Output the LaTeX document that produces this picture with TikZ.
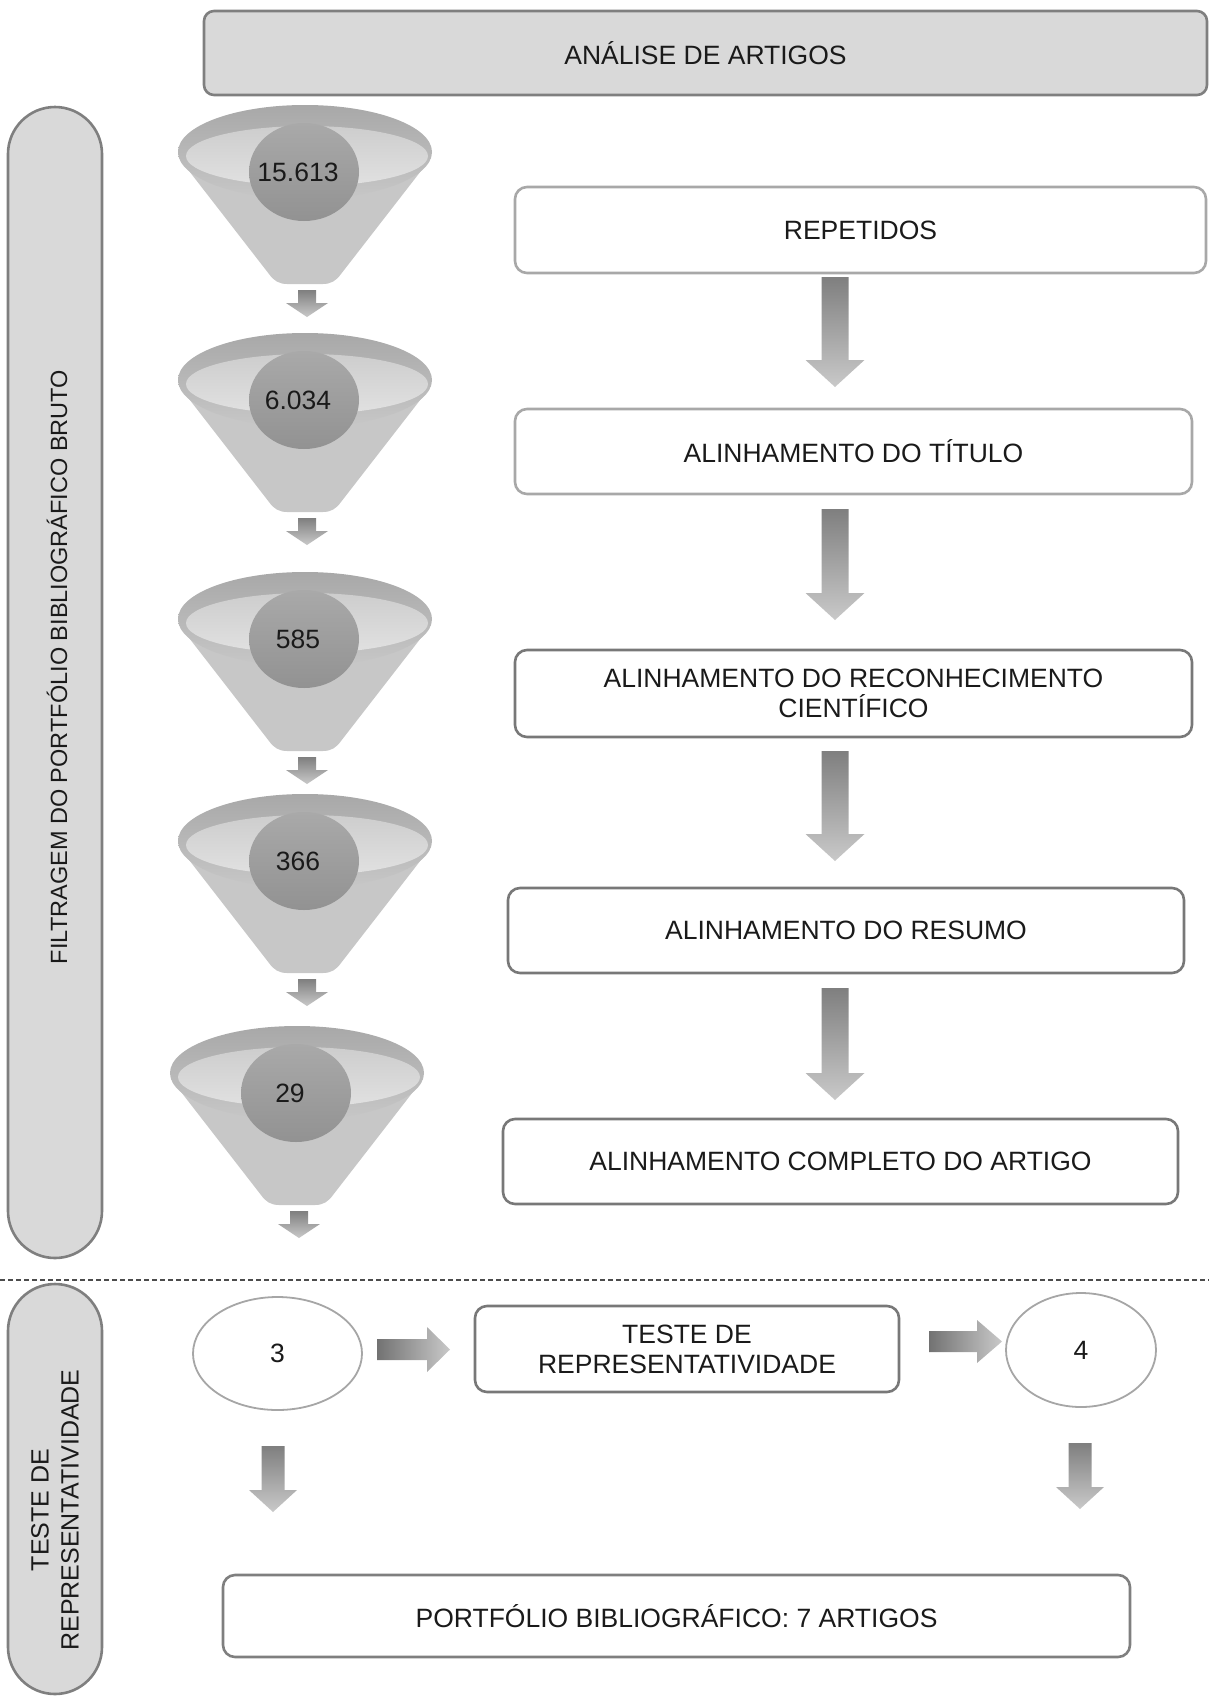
\documentclass[tikz,border=0pt]{standalone}
\usepackage{fontspec}
\setmainfont{Liberation Sans}
\usetikzlibrary{shapes.geometric}

\definecolor{barfill}{HTML}{D9D9D9}
\definecolor{barline}{HTML}{7F7F7F}
\definecolor{boxline}{HTML}{787878}
\definecolor{boxlinelt}{HTML}{A8A8A8}
\definecolor{ellline}{HTML}{A6A6A6}
\definecolor{txt}{HTML}{1A1A1A}
\definecolor{conecol}{HTML}{C7C7C7}
\definecolor{rimtop}{HTML}{A8A8A8}
\definecolor{rimbot}{HTML}{C7C7C7}
\definecolor{intop}{HTML}{CDCDCD}
\definecolor{inbot}{HTML}{E1E1E1}
\definecolor{circtop}{HTML}{A9A9A9}
\definecolor{circbot}{HTML}{929292}
\definecolor{arrtop}{HTML}{7F7F7F}
\definecolor{arrbot}{HTML}{C9C9C9}

\tikzset{
  bigfont/.style={font=\fontsize{26.5}{30}\selectfont},
  sidefont/.style={font=\fontsize{23.5}{30}\selectfont},
  panel/.style={rectangle, draw=barline, fill=barfill, line width=2.6pt,
    inner sep=0pt},
  stepbox/.style={rectangle, draw=boxline, fill=white, line width=2.6pt,
    rounded corners=12pt, align=center, inner sep=0pt, text=txt, bigfont},
  countell/.style={ellipse, draw=ellline, line width=1.8pt, fill=white,
    inner sep=0pt, text=txt, bigfont},
  dashsep/.style={draw=black!70, line width=1.2pt, dash pattern=on 5pt off 3pt},
  % block arrow pointing down: length, shaft width, head width, head length
  pics/downarr/.style n args={4}{code={
    \shade[top color=arrtop, bottom color=arrbot]
      (-#2/2,0) -- (-#2/2,#1-#4) -- (-#3/2,#1-#4) -- (0,#1)
      -- (#3/2,#1-#4) -- (#2/2,#1-#4) -- (#2/2,0) -- cycle;
  }},
  % block arrow pointing right: length, shaft width, head width, head length
  pics/rightarr/.style n args={4}{code={
    \shade[left color=arrtop!90!black, right color=arrbot]
      (0,-#2/2) -- (#1-#4,-#2/2) -- (#1-#4,-#3/2) -- (#1,0)
      -- (#1-#4,#3/2) -- (#1-#4,#2/2) -- (0,#2/2) -- cycle;
  }},
  % funnel, origin at the centre of its rim
  pics/funnel/.style={code={
    \fill[conecol] (-126,6) -- (-36,122) to[out=-55,in=180] (-18,132)
      -- (18,132) to[out=0,in=-125] (36,122) -- (126,6) -- cycle;
    \shade[top color=rimtop, bottom color=rimbot]
      (0,0) ellipse [x radius=127, y radius=47];
    \shade[top color=intop, bottom color=inbot]
      (2,4) ellipse [x radius=121, y radius=30];
    \shade[top color=circtop, bottom color=circbot]
      (-1,20) ellipse [x radius=55, y radius=49];
    \pic at (2,138) {downarr={27}{18}{42}{14}};
  }}
}

\begin{document}
\begin{tikzpicture}[x=1pt, y=-1pt]
\useasboundingbox (0,0) rectangle (1209,1698);

% header
\node[panel, rounded corners=10pt, minimum width=1003pt, minimum height=84pt,
      text=txt, bigfont] (head) at (705.5,53) {ANÁLISE DE ARTIGOS};

% side panels
\node[panel, rounded corners=47pt, minimum width=94pt, minimum height=1151pt]
      (bar1) at (55,682.5) {};
\node[rotate=90, sidefont, text=txt] (bar1txt) at (57,667)
      {FILTRAGEM DO PORTFÓLIO BIBLIOGRÁFICO BRUTO};
\node[panel, rounded corners=47pt, minimum width=94pt, minimum height=410pt]
      (bar2) at (55,1489) {};
\node[rotate=90, font=\fontsize{25}{30}\selectfont, text=txt, align=center]
      (bar2txt) at (55,1510) {TESTE DE\\REPRESENTATIVIDADE};

% funnels with counts
\pic at (305,152) {funnel};
\pic at (305,380) {funnel};
\pic at (305,619) {funnel};
\pic at (305,841) {funnel};
\pic at (297,1073) {funnel};
\node[bigfont, text=txt] (n1) at (298,172) {15.613};
\node[bigfont, text=txt] (n2) at (298,400) {6.034};
\node[bigfont, text=txt] (n3) at (298,639) {585};
\node[bigfont, text=txt] (n4) at (298,861) {366};
\node[bigfont, text=txt] (n5) at (290,1093) {29};

% filtering steps
\node[stepbox, draw=boxlinelt, minimum width=691pt, minimum height=86pt]
      (rep) at (860.5,230) {REPETIDOS};
\node[stepbox, draw=boxlinelt, minimum width=677pt, minimum height=85pt]
      (tit) at (853.5,451.5) {ALINHAMENTO DO TÍTULO};
\node[stepbox, minimum width=677pt, minimum height=87pt]
      (rec) at (853.5,693.5) {ALINHAMENTO DO RECONHECIMENTO\\CIENTÍFICO};
\node[stepbox, minimum width=676pt, minimum height=85pt]
      (res) at (846,930.5) {ALINHAMENTO DO RESUMO};
\node[stepbox, minimum width=675pt, minimum height=85pt]
      (com) at (840.5,1161.5) {ALINHAMENTO COMPLETO DO ARTIGO};

\pic at (835,277) {downarr={110}{27}{59}{27}};
\pic at (835,509) {downarr={111}{27}{59}{27}};
\pic at (835,751) {downarr={110}{27}{59}{27}};
\pic at (835,988) {downarr={112}{27}{59}{27}};

% separator
\coordinate (sepl) at (0,1280);
\coordinate (sepr) at (1209,1280);
\draw[dashsep] (sepl) -- (sepr);

% representativeness test
\node[countell, minimum width=169pt, minimum height=113pt] (e3) at (277.5,1353.5) {3};
\node[stepbox, minimum width=424pt, minimum height=86pt]
      (teste) at (687,1349) {TESTE DE\\REPRESENTATIVIDADE};
\node[countell, minimum width=150pt, minimum height=114pt] (e4) at (1081,1350) {4};

\pic at (377,1349.5) {rightarr={73}{21}{45}{23}};
\pic at (929,1341.5) {rightarr={73}{21}{43}{25}};
\pic at (273,1446) {downarr={66}{23}{48}{22}};
\pic at (1080,1443) {downarr={66}{23}{48}{22}};

\node[stepbox, draw=barline, minimum width=907pt, minimum height=82pt]
      (port) at (676.5,1616) {PORTFÓLIO BIBLIOGRÁFICO: 7 ARTIGOS};

\end{tikzpicture}
\end{document}
